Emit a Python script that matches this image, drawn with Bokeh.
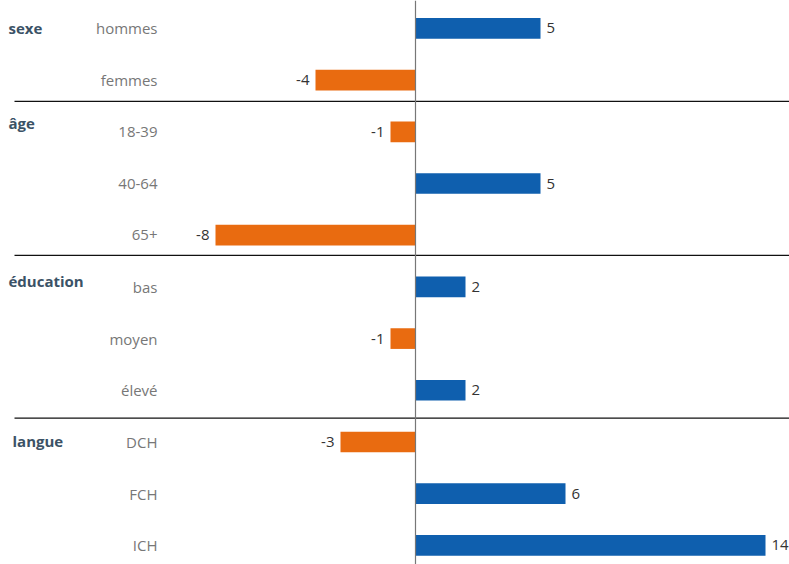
from bokeh.plotting import figure
from bokeh.models import Range1d, Span
from bokeh.embed import file_html
from bokeh.resources import INLINE
from bokeh.core.properties import value

# ---- data ----
groups = ["sexe", "âge", "éducation", "langue"]
group_rows = [0, 1.82, 4.89, 7.99]
group_px = [8, 8, 8, 12]
categories = ["hommes", "femmes", "18-39", "40-64", "65+", "bas", "moyen", "élevé", "DCH", "FCH", "ICH"]
values = [5, -4, -1, 5, -8, 2, -1, 2, -3, 6, 14]
separators = [1.41, 4.39, 7.54]

BLUE = "#0f5fae"
ORANGE = "#e96b10"
FONT = "Open Sans"

W, H = 789, 564
X0, X1 = -16.6, 14.96
PX = (X1 - X0) / W  # data units per pixel

p = figure(width=W, height=H, output_backend="svg", toolbar_location=None,
           x_range=Range1d(X0, X1), y_range=Range1d(10.37, -0.54),
           min_border=0, min_border_left=0, min_border_right=0,
           min_border_top=0, min_border_bottom=0)
p.axis.visible = False
p.grid.visible = False
p.outline_line_color = None
p.background_fill_color = "white"
p.border_fill_color = "white"

rows = list(range(len(categories)))
lefts = [min(v, 0) for v in values]
rights = [max(v, 0) for v in values]
colors = [BLUE if v > 0 else ORANGE for v in values]
p.hbar(y=rows, left=lefts, right=rights, height=0.4, fill_color=colors, line_color=None)

# separators
for s in separators:
    p.segment(x0=[X0 + 14 * PX], x1=[X1], y0=[s], y1=[s], line_color="#111111", line_width=1.3)

# zero line
p.add_layout(Span(location=0, dimension="height", line_color="#777777", line_width=1.2))

# category labels
p.text(x=[X0 + 157 * PX] * len(categories), y=rows, text=categories,
       text_align="right", text_baseline="middle", text_font=value(FONT),
       text_font_size="15px", text_color="#777777")

# group labels
p.text(x=[X0 + g * PX for g in group_px], y=group_rows, text=groups,
       text_align="left", text_baseline="middle", text_font=value(FONT),
       text_font_size="15px", text_font_style="bold", text_color="#3b5266")

# value labels
pos = [(r, v) for r, v in zip(rows, values) if v > 0]
neg = [(r, v) for r, v in zip(rows, values) if v < 0]
p.text(x=[v for r, v in pos], y=[r for r, v in pos], text=[str(v) for r, v in pos],
       x_offset=6, text_align="left", text_baseline="middle", text_font=value(FONT),
       text_font_size="15px", text_color="#333333")
p.text(x=[v for r, v in neg], y=[r for r, v in neg], text=[str(v) for r, v in neg],
       x_offset=-6, text_align="right", text_baseline="middle", text_font=value(FONT),
       text_font_size="15px", text_color="#333333")

open("out.html", "w").write(file_html(p, INLINE))
